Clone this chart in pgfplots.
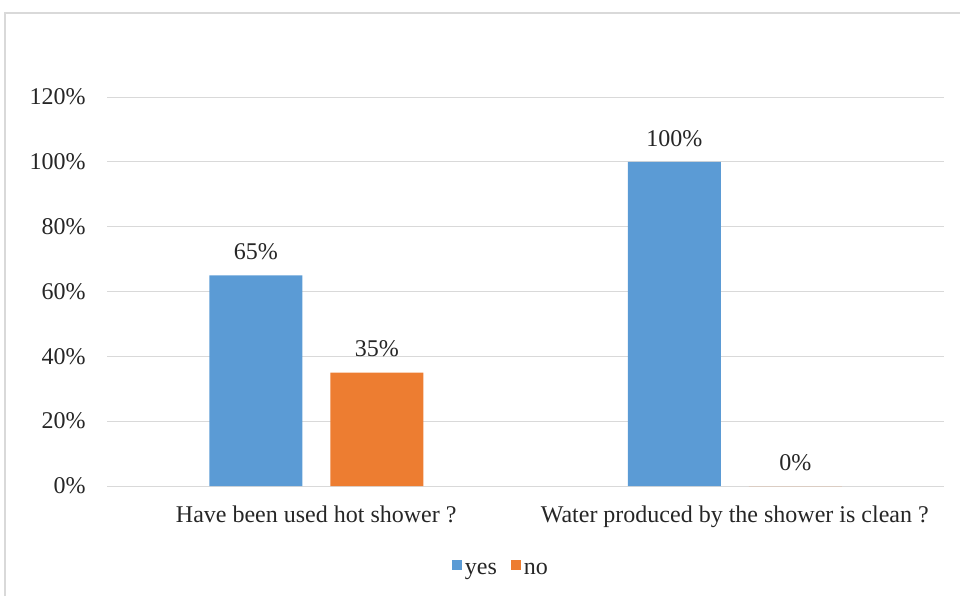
\documentclass[border=0pt]{standalone}
\usepackage{fontspec}
\setmainfont{Liberation Serif}
\usepackage{pgfplots}
\pgfplotsset{compat=1.18}
\definecolor{cyes}{HTML}{5B9BD5}
\definecolor{cno}{HTML}{ED7D31}
\definecolor{cgrid}{HTML}{D9D9D9}
\definecolor{ctext}{HTML}{262626}
\newcommand\chf{\fontsize{12}{14.4}\selectfont}
\begin{document}
\begin{tikzpicture}[x=0.5pt,y=0.5pt]
\path[use as bounding box] (0,0) rectangle (960,596);
\draw[cgrid, line width=1pt] (5,0) -- (5,583) -- (960,583);
\begin{axis}[
  at={(53.5pt,55pt)}, anchor=south west,
  scale only axis, width=418.5pt, height=194.5pt,
  ybar=14pt, bar width=46.5pt,
  xmin=-0.5, xmax=1.5, ymin=0, ymax=120,
  xtick={0,1},
  xticklabels={Have been used hot shower ?, Water produced by the shower is clean ?},
  ytick={0,20,...,120},
  yticklabel={\pgfmathprintnumber{\tick}\%},
  /pgf/number format/assume math mode=true,
  ymajorgrids, grid style={cgrid, line width=0.5pt},
  axis line style={draw=none},
  tick style={draw=none},
  major tick length=0pt,
  tick label style={font=\chf, text=ctext, inner sep=0pt},
  yticklabel style={anchor=east, xshift=-10.5pt},
  xticklabel style={anchor=north, yshift=-9.5pt},
  nodes near coords={\pgfmathprintnumber{\pgfplotspointmeta}\%},
  every node near coord/.append style={font=\chf, text=ctext, inner sep=0pt, anchor=south, yshift=7.5pt},
  legend columns=2,
  legend style={draw=none, fill=none, at={(0.4695,-0.2134)}, anchor=center, font=\chf, text=ctext,
    nodes={inner sep=0pt},
    /tikz/every odd column/.append style={column sep=1.5pt},
    /tikz/every even column/.append style={column sep=7pt}},
  legend image code/.code={\path[#1, draw=none] (0pt,0.2pt) rectangle (5pt,5.2pt);},
]
\addplot[fill=cyes, draw=none] coordinates {(0,65) (1,100)};
\addplot[fill=cno, draw=none] coordinates {(0,35) (1,0)};
\legend{yes, no}
\end{axis}
\end{tikzpicture}
\end{document}
